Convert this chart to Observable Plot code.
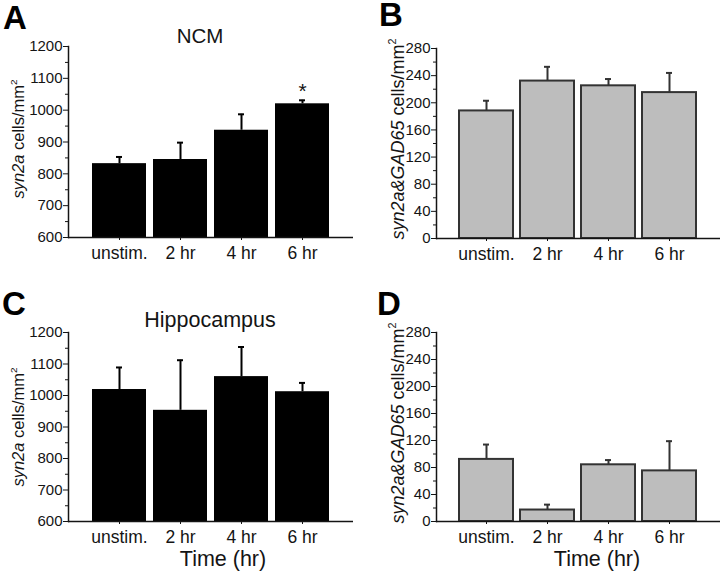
<!DOCTYPE html>
<html>
<head>
<meta charset="utf-8">
<script src="https://cdn.jsdelivr.net/npm/d3@7"></script>
<script src="https://cdn.jsdelivr.net/npm/@observablehq/plot@0.6"></script>
<style>
  html, body { margin: 0; padding: 0; background: #fff; }
  #wrap { position: relative; width: 720px; height: 573px; background: #fff; overflow: hidden; }
  .panel { position: absolute; }
</style>
</head>
<body>
<div id="wrap"></div>
<script>
// ---------------- data ----------------
const categories = ["unstim.", "2 hr", "4 hr", "6 hr"];

// A: NCM, syn2a cells/mm2
const ncmSynMean = [832, 845, 937, 1020];
const ncmSynErr  = [21, 53, 50, 11];
const ncmSynSig  = ["", "", "", "*"];

// B: NCM, syn2a&GAD65 cells/mm2
const ncmGadMean = [188, 232, 225, 215];
const ncmGadErr  = [15, 21, 10, 29];

// C: Hippocampus, syn2a cells/mm2
const hipSynMean = [1019, 953, 1060, 1012];
const hipSynErr  = [70, 159, 94, 28];

// D: Hippocampus, syn2a&GAD65 cells/mm2
const hipGadMean = [92, 17, 84, 75];
const hipGadErr  = [22, 8, 7, 44];

// axis ticks
const synTicks = [600, 700, 800, 900, 1000, 1100, 1200];
const synMinor = [650, 750, 850, 950, 1050, 1150];
const gadTicks = [0, 40, 80, 120, 160, 200, 240, 280];
const gadMinor = [20, 60, 100, 140, 180, 220, 260];

const panelLetters = ["A", "B", "C", "D"];
const regionTitles = ["NCM", "Hippocampus"];
const xTitle = "Time (hr)";

// ---------------- drawing ----------------
const FONT = "'Liberation Sans', Arial, Helvetica, sans-serif";
const INK = "#141414";

function panel(o) {
  const data = categories.map((c, i) => ({cat: c, mean: o.mean[i], err: o.err[i], sig: o.sig ? o.sig[i] : ""}));
  const y0 = o.domain[0];
  const svg = Plot.plot({
    width: 360, height: o.height,
    marginLeft: o.ml, marginRight: o.mr, marginTop: o.mt, marginBottom: o.mb,
    style: {fontFamily: FONT, color: INK, background: "white", overflow: "visible"},
    x: {domain: categories, paddingInner: 0.113, paddingOuter: 0.355, label: null},
    y: {domain: o.domain, label: null},
    marks: [
      Plot.barY(data, {x: "cat", y1: y0, y2: "mean", fill: o.fill, stroke: o.stroke, strokeWidth: o.sw}),
      Plot.ruleX(data, {x: "cat", y1: "mean", y2: d => d.mean + d.err, stroke: o.ebar, strokeWidth: 2}),
      Plot.tickY(data, {x: "cat", y: d => d.mean + d.err, stroke: o.ebar, strokeWidth: 2, insetLeft: 24, insetRight: 24}),
      Plot.text(data, {x: "cat", y: d => d.mean + d.err, text: "sig", dy: -9, fontSize: 21, fill: INK}),
      Plot.ruleY([y0], {stroke: INK, strokeWidth: 1.5}),
      Plot.frame({anchor: "left", stroke: INK, strokeWidth: 1.5}),
      Plot.axisY({ticks: o.major, tickSize: 5, tickPadding: 1, fontSize: 15, tickFormat: d => String(d), label: null, stroke: INK}),
      Plot.axisY({ticks: o.minor, tickSize: 3, tickFormat: () => "", label: null, stroke: INK}),
      Plot.axisX({tickSize: 3, tickPadding: 6, fontSize: 17.5, label: null, stroke: INK})
    ]
  });
  const s = d3.select(svg);
  // panel letter
  s.append("text").attr("x", o.letterX).attr("y", o.letterY).attr("text-anchor", "start")
    .attr("font-size", 33).attr("font-weight", "bold").attr("fill", "#000")
    .attr("font-family", FONT).text(o.letter);
  // region title
  if (o.title) {
    s.append("text").attr("x", o.titleX).attr("y", o.titleY).attr("text-anchor", "middle")
      .attr("font-size", o.titleSize).attr("fill", INK).attr("font-family", FONT).text(o.title);
  }
  // y label
  const yl = s.append("text")
    .attr("transform", `translate(${o.ylX},${o.ylY}) rotate(-90)`)
    .attr("text-anchor", "middle").attr("font-size", o.ylSize).attr("fill", INK).attr("font-family", FONT);
  yl.append("tspan").attr("font-style", "italic").text(o.ylItalic);
  yl.append("tspan").text(" cells/mm");
  yl.append("tspan").attr("font-size", "0.6em").attr("dy", "-0.7em").text("2");
  // x title
  if (o.xTitle) {
    s.append("text").attr("x", o.xtX).attr("y", o.xtY).attr("text-anchor", "middle")
      .attr("font-size", 21.5).attr("fill", INK).attr("font-family", FONT).text(o.xTitle);
  }
  const div = document.createElement("div");
  div.className = "panel";
  div.style.left = o.left + "px";
  div.style.top = o.top + "px";
  div.appendChild(svg);
  document.getElementById("wrap").appendChild(div);
}

const black = {fill: "#000", stroke: "#000", sw: 0, ebar: "#000"};
const gray = {fill: "#bdbdbd", stroke: "#333", sw: 2, ebar: "#333"};

panel({...black, left: 0, top: 0, height: 290, ml: 68, mr: 7, mt: 46, mb: 53,
  mean: ncmSynMean, err: ncmSynErr, sig: ncmSynSig, domain: [600, 1200], major: synTicks, minor: synMinor,
  letter: panelLetters[0], letterX: 3, letterY: 29,
  title: regionTitles[0], titleX: 200, titleY: 43, titleSize: 20.5,
  ylItalic: "syn2a", ylX: 24, ylY: 139, ylSize: 16.5});

panel({...gray, left: 360, top: 0, height: 290, ml: 76, mr: 0, mt: 48, mb: 52,
  mean: ncmGadMean, err: ncmGadErr, domain: [0, 280], major: gadTicks, minor: gadMinor,
  letter: panelLetters[1], letterX: 19, letterY: 26,
  ylItalic: "syn2a&GAD65", ylX: 44, ylY: 139, ylSize: 18});

panel({...black, left: 0, top: 290, height: 283, ml: 68, mr: 7, mt: 42, mb: 52,
  mean: hipSynMean, err: hipSynErr, domain: [600, 1200], major: synTicks, minor: synMinor,
  letter: panelLetters[2], letterX: 2, letterY: 25,
  title: regionTitles[1], titleX: 210, titleY: 37, titleSize: 21.5,
  ylItalic: "syn2a", ylX: 24, ylY: 137, ylSize: 16.5,
  xTitle: xTitle, xtX: 223, xtY: 276});

panel({...gray, left: 360, top: 290, height: 283, ml: 76, mr: 0, mt: 42, mb: 52,
  mean: hipGadMean, err: hipGadErr, domain: [0, 280], major: gadTicks, minor: gadMinor,
  letter: panelLetters[3], letterX: 17, letterY: 25,
  ylItalic: "syn2a&GAD65", ylX: 44, ylY: 133, ylSize: 18,
  xTitle: xTitle, xtX: 237, xtY: 276});
</script>
</body>
</html>
